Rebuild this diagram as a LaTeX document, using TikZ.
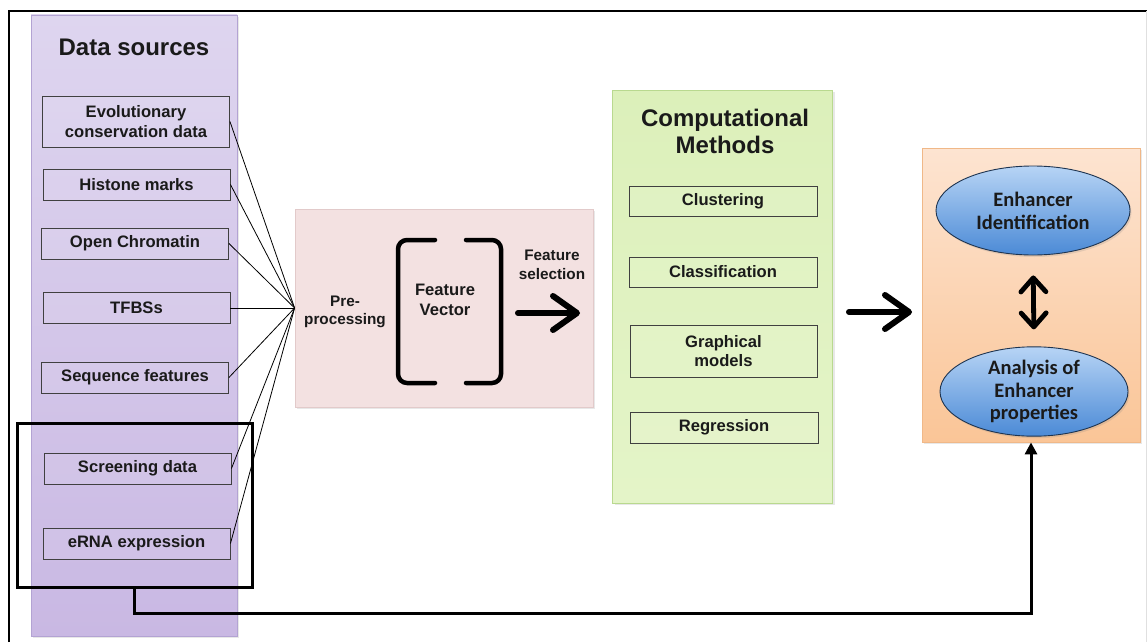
\documentclass[tikz,border=0pt]{standalone}
\usepackage{fontspec}
\setmainfont{Liberation Sans}
\newfontfamily\calfont{Carlito}
\usetikzlibrary{arrows.meta,shapes.geometric,shadows}

\definecolor{txt}{HTML}{1A1A1A}
\definecolor{lavtop}{HTML}{DED5EF}
\definecolor{lavbot}{HTML}{C9B8E3}
\definecolor{lavedge}{HTML}{B3A3D3}
\definecolor{pinkfill}{HTML}{F3E1E1}
\definecolor{pinkedge}{HTML}{E2CACA}
\definecolor{greentop}{HTML}{DCF0BA}
\definecolor{greenbot}{HTML}{E4F4C8}
\definecolor{greenedge}{HTML}{B9D98F}
\definecolor{orangetop}{HTML}{FDE4D1}
\definecolor{orangebot}{HTML}{FAC597}
\definecolor{orangeedge}{HTML}{F0B888}
\definecolor{bluetop}{HTML}{B7D4F5}
\definecolor{bluebot}{HTML}{4B8AD6}
\definecolor{blueedge}{HTML}{1E3450}

\tikzset{
  panel/.style={rectangle, inner sep=0pt, line width=0.8pt,
    drop shadow={shadow xshift=2pt, shadow yshift=-2pt, opacity=0.18}},
  itembox/.style={rectangle, draw=black!75, line width=0.9pt, inner sep=0pt,
    minimum width=187pt, minimum height=31pt, align=center, text=txt,
    fill=white, fill opacity=0.08, text opacity=1,
    font=\bfseries\fontsize{16.6}{19.5}\selectfont},
  headline/.style={align=center, text=txt, font=\bfseries\fontsize{24}{27}\selectfont},
  label/.style={align=center, text=txt, font=\bfseries\fontsize{15.3}{18.5}\selectfont},
  blob/.style={ellipse, draw=blueedge, line width=0.9pt, inner sep=0pt,
    top color=bluetop, bottom color=bluebot, align=center, text=txt,
    font=\calfont\bfseries\fontsize{20.5}{22.8}\selectfont,
    drop shadow={shadow xshift=1.5pt, shadow yshift=-2pt, opacity=0.2}},
  fan/.style={draw=black, line width=0.8pt},
  bracketline/.style={draw=black, line width=4.5pt, line cap=round, rounded corners=9pt},
  bigarrow/.style={draw=black, line width=6pt, line cap=round,
    -{Straight Barb[length=24pt, width=34pt, round]}},
  twoway/.style={draw=black, line width=4.8pt,
    {Straight Barb[length=14pt, width=25pt, round]}-{Straight Barb[length=14pt, width=25pt, round]}},
  feedback/.style={draw=black, line width=3pt, -{Triangle[length=12pt, width=12pt]}}
}

\begin{document}
\begin{tikzpicture}[x=1pt, y=-1pt]
\useasboundingbox (0,0) rectangle (1147,642);
\fill[white] (0,0) rectangle (1147,642);

% outer frame
\draw[black, line width=1.8pt] (9,642) -- (9,11) -- (1147,11);
\draw[black!12, line width=1pt] (1146,11) -- (1146,642);

% data sources column
\node[panel, draw=lavedge, top color=lavtop, bottom color=lavbot,
  minimum width=206pt, minimum height=621pt] (src) at (134,325.5) {};
\node[headline] (srct) at (134,47) {Data sources};

\node[itembox, minimum height=51pt] (evo) at (136,121.5) {Evolutionary\\conservation data};
\node[itembox] (his) at (136.5,184.5) {Histone marks};
\node[itembox] (opc) at (135,243.5) {Open Chromatin};
\node[itembox] (tfb) at (136.5,308) {TFBSs};
\node[itembox] (seq) at (135,377.5) {Sequence features};
\node[itembox] (scr) at (137.5,468.5) {Screening data};
\node[itembox] (ern) at (136.5,543.5) {eRNA expression};

% group of the experimental sources
\node[rectangle, draw=black, line width=3pt, inner sep=0pt,
  minimum width=235pt, minimum height=164pt] (grp) at (134.5,505) {};

% pre-processing block
\node[panel, draw=pinkedge, fill=pinkfill,
  minimum width=298pt, minimum height=198pt] (pre) at (444,308) {};
\coordinate (hub) at (pre.west);

\foreach \n in {evo,his,opc,tfb,seq,scr,ern}
  \draw[fan] (\n.east) -- (hub);

\node[label] (ppl) at (345,312) {Pre-\\processing};
\draw[bracketline] (435,240) -- (398,240) -- (398,383) -- (435,383);
\draw[bracketline] (466,240) -- (501,240) -- (501,383) -- (466,383);
\node[label, font=\bfseries\fontsize{16.6}{20}\selectfont] (fv) at (445,300) {Feature\\Vector};
\node[label] (fsl) at (552,265) {Feature\\selection};
\coordinate (fsA) at (518,313);
\coordinate (fsB) at (580,313);
\draw[bigarrow] (fsA) -- (fsB);

% computational methods column
\node[panel, draw=greenedge, top color=greentop, bottom color=greenbot,
  minimum width=220pt, minimum height=413pt] (cm) at (722.5,296.5) {};
\node[headline] (cmt) at (725,131) {Computational\\Methods};
\node[itembox, minimum width=188pt, minimum height=30pt] (clu) at (723,201) {Clustering};
\node[itembox, minimum width=188pt, minimum height=30pt] (cla) at (723,272) {Classification};
\node[itembox, minimum width=187pt, minimum height=52pt] (gra) at (723.5,351) {Graphical\\models};
\node[itembox, minimum width=188pt] (reg) at (724,427.5) {Regression};

\coordinate (cmA) at (849,312);
\coordinate (cmB) at (912,312);
\draw[bigarrow] (cmA) -- (cmB);

% enhancer block
\node[panel, draw=orangeedge, top color=orangetop, bottom color=orangebot,
  minimum width=218pt, minimum height=294pt] (enh) at (1031,295) {};
\node[blob, minimum width=194pt, minimum height=89pt] (eid) at (1033,210.5) {Enhancer\\Identification};
\node[blob, minimum width=188pt, minimum height=87pt] (ean) at (1034,391.5) {Analysis of\\Enhancer\\properties};
\draw[twoway, shorten <=20pt, shorten >=17pt] (eid.south) -- (ean.north);

% feedback from the experimental sources
\draw[feedback] (grp.south) -- ++(0,25) -| (enh.south);
\end{tikzpicture}
\end{document}
